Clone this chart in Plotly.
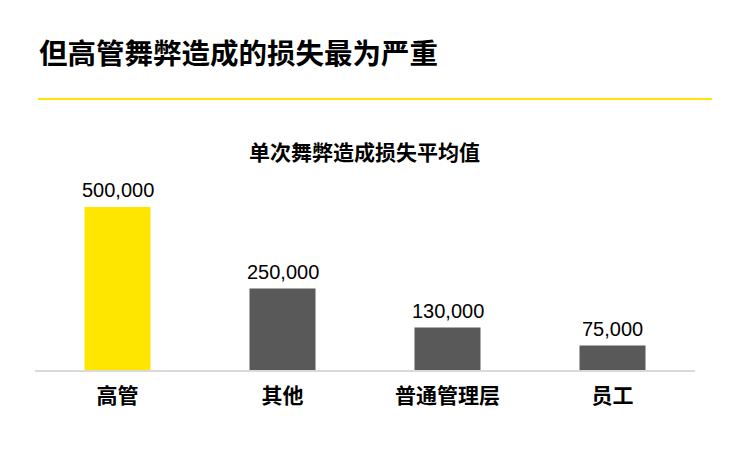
import plotly.graph_objects as go

categories = ["高管", "其他", "普通管理层", "员工"]
values = [500000, 250000, 130000, 75000]
value_labels = ["500,000", "250,000", "130,000", "75,000"]
bar_colors = ["#FFE600", "#595959", "#595959", "#595959"]

title_text = "但高管舞弊造成的损失最为严重"
subtitle_text = "单次舞弊造成损失平均值"

FONT = "Noto Sans CJK SC"
NUM_FONT = "Liberation Sans"

W, H = 750, 460
ml, mr, mt, mb = 35, 55, 180, 90
pw = W - ml - mr
ph = H - mt - mb


def px_x(px):
    return (px - ml) / pw


def px_y(py):
    return (H - mb - py) / ph


fig = go.Figure(
    go.Bar(
        x=categories,
        y=values,
        marker=dict(color=bar_colors, line=dict(width=0)),
        cliponaxis=False,
        hoverinfo="skip",
    )
)

value_annotations = [
    dict(
        text=lbl,
        x=cat, y=val,
        xref="x", yref="y",
        xanchor="center", yanchor="middle",
        yshift=17,
        showarrow=False,
        font=dict(family=NUM_FONT, size=20, color="#000000"),
    )
    for cat, val, lbl in zip(categories, values, value_labels)
]

fig.update_layout(
    width=W,
    height=H,
    margin=dict(l=ml, r=mr, t=mt, b=mb),
    paper_bgcolor="white",
    plot_bgcolor="white",
    bargap=0.6,
    showlegend=False,
    font=dict(family=FONT, color="#000000"),
    xaxis=dict(
        showline=True,
        linecolor="#d9d9d9",
        linewidth=2,
        showgrid=False,
        ticks="",
        tickfont=dict(family=FONT, size=21, color="#000000", weight=700),
        ticklabelstandoff=6,
        fixedrange=True,
    ),
    yaxis=dict(
        range=[0, 500000 * ph / 163],
        visible=False,
        showgrid=False,
        zeroline=False,
        fixedrange=True,
    ),
    annotations=[
        dict(
            text=title_text,
            xref="paper", yref="paper",
            x=px_x(37), y=px_y(51),
            xanchor="left", yanchor="middle",
            showarrow=False,
            font=dict(family=FONT, size=28.5, color="#000000", weight=700),
        ),
        dict(
            text=subtitle_text,
            xref="paper", yref="paper",
            x=px_x(364.5), y=px_y(151),
            xanchor="center", yanchor="middle",
            showarrow=False,
            font=dict(family=FONT, size=21, color="#000000", weight=700),
        ),
    ] + value_annotations,
    shapes=[
        dict(
            type="line",
            xref="paper", yref="paper",
            x0=px_x(38), x1=px_x(712),
            y0=px_y(99), y1=px_y(99),
            line=dict(color="#FFE600", width=2),
        )
    ],
)

fig.write_html("out.html")
